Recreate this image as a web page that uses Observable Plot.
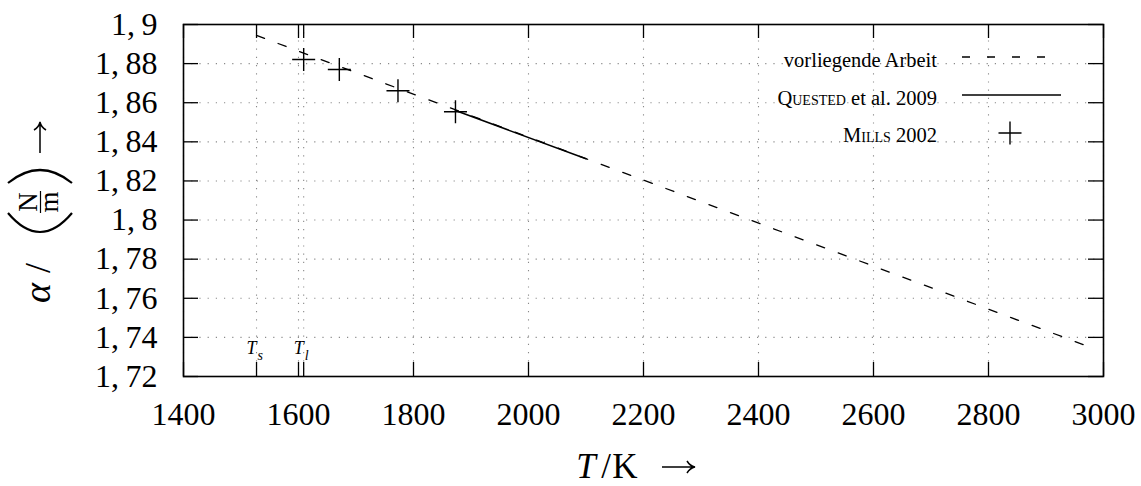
<!DOCTYPE html>
<html>
<head>
<meta charset="utf-8">
<script src="https://cdn.jsdelivr.net/npm/d3@7"></script>
<script src="https://cdn.jsdelivr.net/npm/@observablehq/plot@0.6"></script>
<style>
  html, body { margin: 0; padding: 0; background: #fff; }
  #chart { width: 1141px; height: 486px; }
</style>
</head>
<body>
<div id="chart"></div>
<script>
// ---- data ----
const xTicks = [1400, 1600, 1800, 2000, 2200, 2400, 2600, 2800, 3000];
const yTicks = [1.72, 1.74, 1.76, 1.78, 1.80, 1.82, 1.84, 1.86, 1.88, 1.90];
const phaseT = [1527, 1609];           // T_s, T_l
const phaseSub = ["s", "l"];
const arbeitT = [1527, 2985];          // vorliegende Arbeit (dashed)
const arbeitAlpha = [1.8944, 1.7341];
const questedT = [1873, 2100];         // Quested et al. 2009 (solid)
const questedAlpha = [1.8560, 1.8313];
const millsT = [1609, 1671, 1773, 1873];   // Mills 2002 (+)
const millsAlpha = [1.8821, 1.8770, 1.8661, 1.8554];
const legendLabels = ["vorliegende Arbeit", "Quested et al. 2009", "Mills 2002"];

// ---- layout ----
const W = 1141, H = 486;
const mL = 183, mR = 38, mT = 24, mB = 110;
const pw = W - mL - mR, ph = H - mT - mB;
const FONT = "'Liberation Serif', 'DejaVu Serif', serif";

const arbeit = arbeitT.map((t, i) => ({T: t, a: arbeitAlpha[i]}));
const quested = questedT.map((t, i) => ({T: t, a: questedAlpha[i]}));
const mills = millsT.map((t, i) => ({T: t, a: millsAlpha[i]}));
const phases = phaseT.map((t, i) => ({T: t, sub: phaseSub[i]}));
const xGrid = xTicks.concat(phaseT);
const xMajor = xTicks.concat(phaseT);

const plusSymbol = {
  draw(ctx, size) {
    const r = Math.sqrt(size / Math.PI);
    ctx.moveTo(-r, 0); ctx.lineTo(r, 0);
    ctx.moveTo(0, -r); ctx.lineTo(0, r);
  }
};

const fmtY = d => d3.format(".2~f")(d).replace(".", ",\u2009");

const chart = Plot.plot({
  width: W, height: H,
  marginLeft: mL, marginRight: mR, marginTop: mT, marginBottom: mB,
  style: {fontFamily: FONT, fontSize: "32px", background: "white", color: "black"},
  x: {domain: [1400, 3000], ticks: xTicks, tickFormat: d => String(d), tickSize: 0, tickPadding: 26, label: null},
  y: {domain: [1.72, 1.9], ticks: yTicks, tickFormat: fmtY, tickSize: 0, tickPadding: 26, label: null},
  marks: [
    // dotted grid
    Plot.ruleX(xGrid, {stroke: "#8a8a8a", strokeWidth: 1.1, strokeDasharray: "1.2,7"}),
    Plot.ruleY(yTicks, {stroke: "#8a8a8a", strokeWidth: 1.1, strokeDasharray: "1.2,7"}),
    // inward major ticks
    Plot.ruleY(yTicks, {stroke: "black", strokeWidth: 1.3, insetRight: pw - 15}),
    Plot.ruleY(yTicks, {stroke: "black", strokeWidth: 1.3, insetLeft: pw - 15}),
    Plot.ruleX(xMajor, {stroke: "black", strokeWidth: 1.3, insetTop: ph - 14}),
    Plot.ruleX(xMajor, {stroke: "black", strokeWidth: 1.3, insetBottom: ph - 14}),
    // phase labels T_s, T_l
    Plot.text(phases, {x: "T", text: () => "T", frameAnchor: "bottom", dy: -23, dx: -5,
      fontStyle: "italic", fontSize: 18, textAnchor: "middle"}),
    Plot.text(phases, {x: "T", text: "sub", frameAnchor: "bottom", dy: -17, dx: 1,
      fontStyle: "italic", fontSize: 14, textAnchor: "start"}),
    // series
    Plot.line(arbeit, {x: "T", y: "a", stroke: "black", strokeWidth: 1.3, strokeDasharray: "8.5,14.5"}),
    Plot.line(quested, {x: "T", y: "a", stroke: "black", strokeWidth: 1.6}),
    Plot.dot(mills, {x: "T", y: "a", r: 11.5, symbol: plusSymbol, stroke: "black", strokeWidth: 1.4, fill: "none"}),
    Plot.frame({stroke: "black", strokeWidth: 1.6})
  ]
});

document.getElementById("chart").appendChild(chart);

const svg = d3.select(chart);

// ---- legend ----
const lg = svg.append("g").attr("font-family", FONT).attr("font-size", 20.5).attr("fill", "black");
const rowsY = [67, 105, 142];
legendLabels.forEach((lab, i) => {
  const t = lg.append("text").attr("x", 937).attr("y", rowsY[i]).attr("text-anchor", "end");
  if (i === 0) t.text(lab);
  else {
    const parts = lab.split(" ");
    t.append("tspan").attr("font-variant", "small-caps").text(parts[0]);
    t.append("tspan").text(" " + parts.slice(1).join(" "));
  }
});
lg.append("line").attr("x1", 962).attr("x2", 1055).attr("y1", 57).attr("y2", 57)
  .attr("stroke", "black").attr("stroke-width", 1.3).attr("stroke-dasharray", "8,17");
lg.append("line").attr("x1", 962).attr("x2", 1061).attr("y1", 95).attr("y2", 95)
  .attr("stroke", "black").attr("stroke-width", 1.6);
lg.append("path").attr("d", "M998.5,133H1021.5M1010,121.5V144.5")
  .attr("stroke", "black").attr("stroke-width", 1.4).attr("fill", "none");

// arrow helper (LaTeX-like \rightarrow), horizontal in local coords
function arrow(g, x0, x1, y) {
  g.append("path")
    .attr("d", `M${x0},${y}H${x1 - 1} M${x1 - 8},${y - 6} Q${x1 - 5},${y - 1} ${x1},${y} Q${x1 - 5},${y + 1} ${x1 - 8},${y + 6}`)
    .attr("stroke", "black").attr("stroke-width", 1.5).attr("fill", "none");
}

// ---- x axis label ----
const xg = svg.append("g").attr("font-family", FONT).attr("font-size", 35).attr("fill", "black");
xg.append("text").attr("x", 586).attr("y", 478).attr("font-style", "italic").text("T");
xg.append("text").attr("x", 606).attr("y", 478).text("/");
xg.append("text").attr("x", 625).attr("y", 478).text("K");
arrow(xg, 662, 695, 467);

// ---- y axis label (rotated) ----
const yl = svg.append("g").attr("transform", "rotate(-90)")
  .attr("font-family", FONT).attr("fill", "black");
yl.append("text").attr("x", -293).attr("y", 50).attr("font-size", 38).attr("font-style", "italic").text("\u03b1");
yl.append("text").attr("x", -268).attr("y", 50).attr("font-size", 36).text("/");
yl.append("path").attr("d", "M-213,8 Q-251,40 -213,72").attr("stroke", "black").attr("stroke-width", 2.2).attr("fill", "none");
yl.append("text").attr("x", -202).attr("y", 37).attr("font-size", 27).attr("text-anchor", "middle").text("N");
yl.append("line").attr("x1", -213).attr("x2", -191).attr("y1", 40.5).attr("y2", 40.5).attr("stroke", "black").attr("stroke-width", 1.2);
yl.append("text").attr("x", -202).attr("y", 58).attr("font-size", 27).attr("text-anchor", "middle").text("m");
yl.append("path").attr("d", "M-183,8 Q-157,40 -183,72").attr("stroke", "black").attr("stroke-width", 2.2).attr("fill", "none");
arrow(yl, -153, -122, 40);
</script>
</body>
</html>
